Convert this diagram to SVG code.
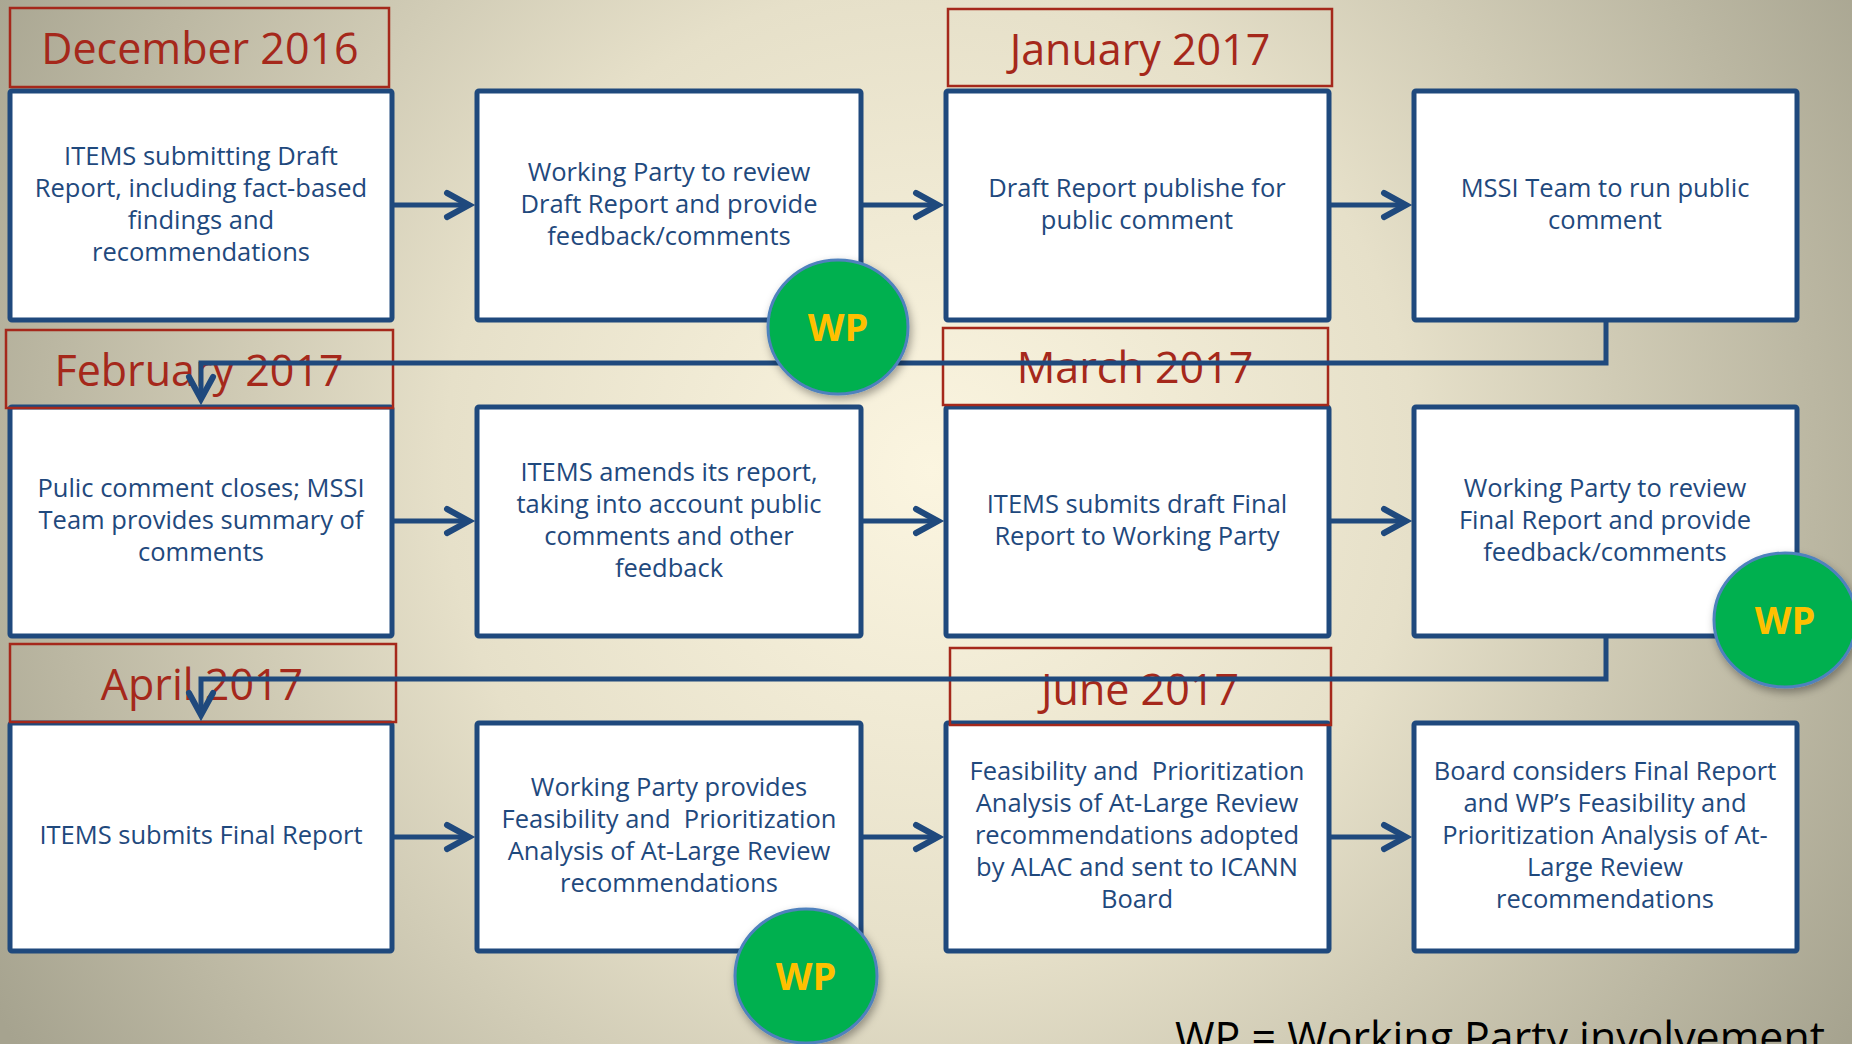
<svg xmlns="http://www.w3.org/2000/svg" width="1852" height="1044" viewBox="0 0 1852 1044">
<defs>
<radialGradient id="bg" gradientUnits="userSpaceOnUse" cx="930" cy="470" r="1080">
<stop offset="0" stop-color="#FBF5E0"/>
<stop offset="0.45" stop-color="#E6E0C9"/>
<stop offset="1" stop-color="#A6A38F"/>
</radialGradient>
<marker id="arr" markerUnits="userSpaceOnUse" markerWidth="40" markerHeight="40" viewBox="-30 -20 40 40" refX="-3" refY="0" orient="auto">
<path d="M-22,-12 L0,0 L-22,12" fill="none" stroke="#1F497D" stroke-width="6" stroke-linecap="round" stroke-linejoin="miter"/>
</marker>
<filter id="sh" x="-30%" y="-30%" width="160%" height="160%">
<feDropShadow dx="2" dy="4" stdDeviation="4" flood-color="#000" flood-opacity="0.35"/>
</filter>
</defs>
<style>
.box{fill:#fff;stroke:#1F497D;stroke-width:5}
.lbl{fill:none;stroke:#A5281B;stroke-width:2.5}
.lt{font-family:"Open Sans","Noto Sans",sans-serif;font-size:43px;fill:#A5281B;text-anchor:middle}
.t{font-family:"Open Sans","Noto Sans",sans-serif;font-size:25.5px;fill:#1F497D;text-anchor:middle}
.con{fill:none;stroke:#1F497D;stroke-width:5}
.wp{fill:#00B050;stroke:#4F81BD;stroke-width:3;filter:url(#sh)}
.wpt{font-family:"Open Sans","Noto Sans",sans-serif;font-size:38px;font-weight:bold;fill:#FFC000;text-anchor:middle}
</style>
<rect width="1852" height="1044" fill="url(#bg)"/>

<g id="n1"><rect class="box" x="10" y="91" width="382" height="229" rx="2"/>
<text class="t" x="201"><tspan x="201" y="164.5">ITEMS submitting Draft</tspan><tspan x="201" y="196.5">Report, including fact-based</tspan><tspan x="201" y="228.5">findings and</tspan><tspan x="201" y="260.5">recommendations</tspan></text></g>
<g id="n2"><rect class="box" x="477" y="91" width="384" height="229" rx="2"/>
<text class="t"><tspan x="669" y="180.5">Working Party to review</tspan><tspan x="669" y="212.5">Draft Report and provide</tspan><tspan x="669" y="244.5">feedback/comments</tspan></text></g>
<g id="n3"><rect class="box" x="946" y="91" width="383" height="229" rx="2"/>
<text class="t"><tspan x="1137" y="196.5">Draft Report publishe for</tspan><tspan x="1137" y="228.5">public comment</tspan></text></g>
<g id="n4"><rect class="box" x="1414" y="91" width="383" height="229" rx="2"/>
<text class="t"><tspan x="1605" y="196.5">MSSI Team to run public</tspan><tspan x="1605" y="228.5">comment</tspan></text></g>

<g id="n5"><rect class="box" x="10" y="407" width="382" height="229" rx="2"/>
<text class="t"><tspan x="201" y="496.5">Pulic comment closes; MSSI</tspan><tspan x="201" y="528.5">Team provides summary of</tspan><tspan x="201" y="560.5">comments</tspan></text></g>
<g id="n6"><rect class="box" x="477" y="407" width="384" height="229" rx="2"/>
<text class="t"><tspan x="669" y="480.5">ITEMS amends its report,</tspan><tspan x="669" y="512.5">taking into account public</tspan><tspan x="669" y="544.5">comments and other</tspan><tspan x="669" y="576.5">feedback</tspan></text></g>
<g id="n7"><rect class="box" x="946" y="407" width="383" height="229" rx="2"/>
<text class="t"><tspan x="1137" y="512.5">ITEMS submits draft Final</tspan><tspan x="1137" y="544.5">Report to Working Party</tspan></text></g>
<g id="n8"><rect class="box" x="1414" y="407" width="383" height="229" rx="2"/>
<text class="t"><tspan x="1605" y="496.5">Working Party to review</tspan><tspan x="1605" y="528.5">Final Report and provide</tspan><tspan x="1605" y="560.5">feedback/comments</tspan></text></g>

<g id="n9"><rect class="box" x="10" y="723" width="382" height="228" rx="2"/>
<text class="t"><tspan x="201" y="844">ITEMS submits Final Report</tspan></text></g>
<g id="n10"><rect class="box" x="477" y="723" width="384" height="228" rx="2"/>
<text class="t" xml:space="preserve"><tspan x="669" y="796">Working Party provides</tspan><tspan x="669" y="828">Feasibility and  Prioritization</tspan><tspan x="669" y="860">Analysis of At-Large Review</tspan><tspan x="669" y="892">recommendations</tspan></text></g>
<g id="n11"><rect class="box" x="946" y="723" width="383" height="228" rx="2"/>
<text class="t" xml:space="preserve"><tspan x="1137" y="780">Feasibility and  Prioritization</tspan><tspan x="1137" y="812">Analysis of At-Large Review</tspan><tspan x="1137" y="844">recommendations adopted</tspan><tspan x="1137" y="876">by ALAC and sent to ICANN</tspan><tspan x="1137" y="908">Board</tspan></text></g>
<g id="n12"><rect class="box" x="1414" y="723" width="383" height="228" rx="2"/>
<text class="t"><tspan x="1605" y="780">Board considers Final Report</tspan><tspan x="1605" y="812">and WP’s Feasibility and</tspan><tspan x="1605" y="844">Prioritization Analysis of At-</tspan><tspan x="1605" y="876">Large Review</tspan><tspan x="1605" y="908">recommendations</tspan></text></g>

<g id="lbl-dec"><rect class="lbl" x="10" y="8" width="379" height="79"/><text class="lt" x="200" y="64">December 2016</text></g>
<g id="lbl-jan"><rect class="lbl" x="948" y="9" width="384" height="77"/><text class="lt" x="1140" y="65">January 2017</text></g>
<g id="lbl-feb"><rect class="lbl" x="6" y="330" width="387" height="78"/><text class="lt" x="199" y="386">February 2017</text></g>
<g id="lbl-mar"><rect class="lbl" x="943" y="328" width="385" height="77"/><text class="lt" x="1135" y="383">March 2017</text></g>
<g id="lbl-apr"><rect class="lbl" x="10" y="644" width="386" height="78"/><text class="lt" x="202" y="700">April 2017</text></g>
<g id="lbl-jun"><rect class="lbl" x="950" y="648" width="381" height="77"/><text class="lt" x="1140" y="705">June 2017</text></g>

<g id="connectors">
<path class="con" d="M392,205 H466" marker-end="url(#arr)"/>
<path class="con" d="M861,205 H935" marker-end="url(#arr)"/>
<path class="con" d="M1329,205 H1403" marker-end="url(#arr)"/>
<path class="con" d="M392,521 H466" marker-end="url(#arr)"/>
<path class="con" d="M861,521 H935" marker-end="url(#arr)"/>
<path class="con" d="M1329,521 H1403" marker-end="url(#arr)"/>
<path class="con" d="M392,837 H466" marker-end="url(#arr)"/>
<path class="con" d="M861,837 H935" marker-end="url(#arr)"/>
<path class="con" d="M1329,837 H1403" marker-end="url(#arr)"/>
<path class="con" d="M1606,320 V363 H201 V396" marker-end="url(#arr)"/>
<path class="con" d="M1606,636 V679 H201 V712" marker-end="url(#arr)"/>
</g>

<g id="wp1"><ellipse class="wp" cx="838" cy="327" rx="70" ry="67"/><text class="wpt" x="838" y="341">WP</text></g>
<g id="wp2"><ellipse class="wp" cx="1785" cy="620" rx="71" ry="67"/><text class="wpt" x="1785" y="634">WP</text></g>
<g id="wp3"><ellipse class="wp" cx="806" cy="976" rx="71" ry="67"/><text class="wpt" x="806" y="990">WP</text></g>

<text x="1175" y="1053" font-family="Open Sans, Noto Sans, sans-serif" font-size="43" fill="#000" textLength="650" lengthAdjust="spacingAndGlyphs">WP = Working Party involvement</text>
</svg>
